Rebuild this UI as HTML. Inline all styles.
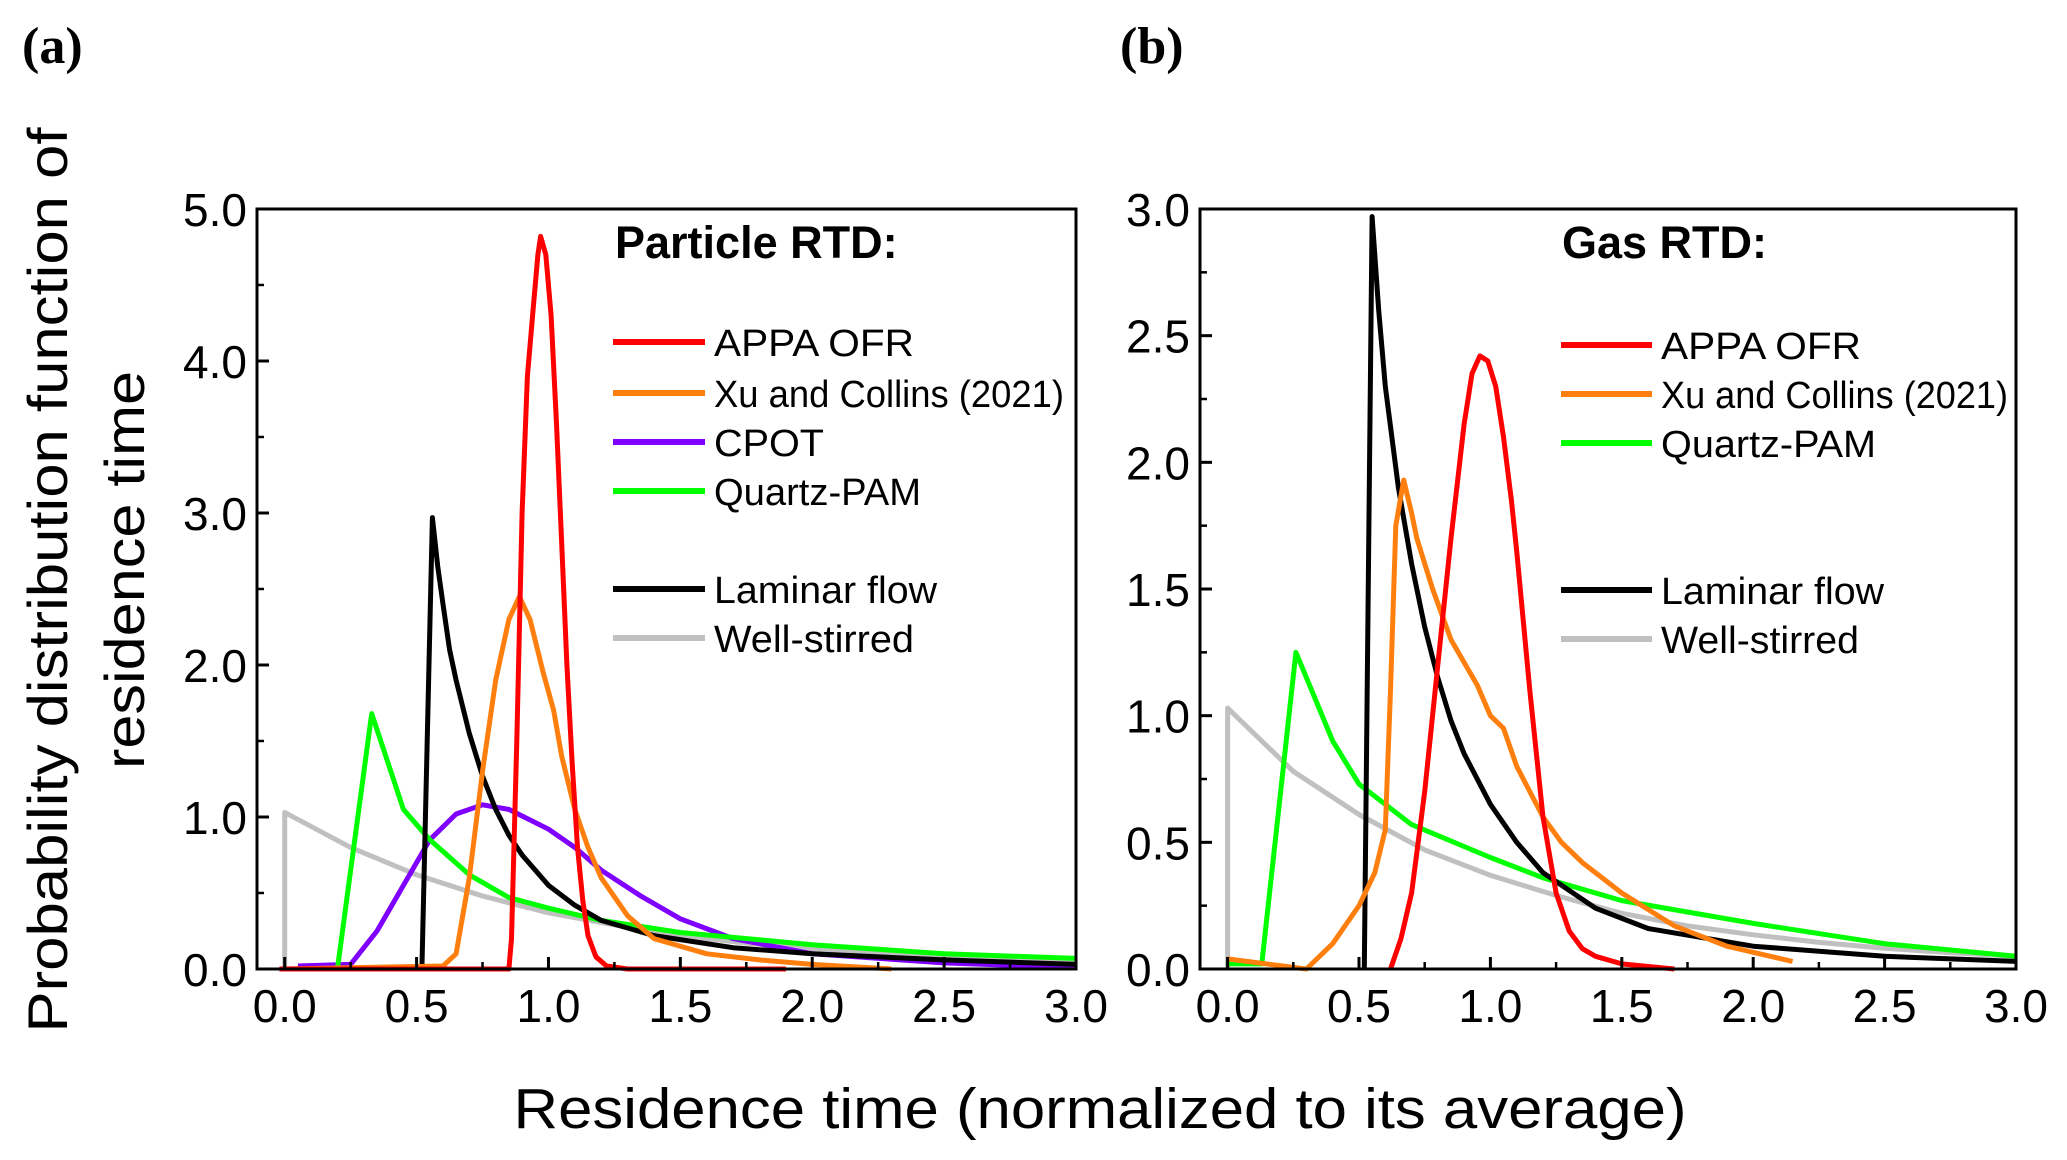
<!DOCTYPE html>
<html><head><meta charset="utf-8"><style>
html,body{margin:0;padding:0;background:#fff;}
svg{display:block;font-family:"Liberation Sans",Arial,sans-serif;}
</style></head><body>
<svg id="fig" width="2067" height="1160" viewBox="0 0 2067 1160" xmlns="http://www.w3.org/2000/svg">
<text x="22" y="63" font-family="Liberation Serif,serif" font-weight="bold" font-size="52">(a)</text>
<text x="1120" y="63" font-family="Liberation Serif,serif" font-weight="bold" font-size="52">(b)</text>
<text transform="translate(67,580) rotate(-90)" text-anchor="middle" font-size="56" textLength="905" lengthAdjust="spacingAndGlyphs">Probability distribution function of</text>
<text transform="translate(144,570) rotate(-90)" text-anchor="middle" font-size="56" textLength="398" lengthAdjust="spacingAndGlyphs">residence time</text>
<text x="1100" y="1128" text-anchor="middle" font-size="57" textLength="1173" lengthAdjust="spacingAndGlyphs">Residence time (normalized to its average)</text>
<g id="pa"></g>
<g id="pb"></g>
</svg>
<script>
// ---- Panel (a) data: Particle RTD ----
const aAppaX = [-0.02,0.5,0.85,0.86,0.88,0.9,0.92,0.94,0.96,0.97,0.99,1.01,1.03,1.05,1.07,1.09,1.11,1.13,1.15,1.18,1.22,1.3,1.5,1.9];
const aAppaY = [0,0,0,0.2,1.5,3.0,3.9,4.3,4.7,4.82,4.7,4.3,3.6,2.8,2.0,1.35,0.8,0.45,0.22,0.08,0.02,0,0,0];
const aXuX = [0.0,0.6,0.65,0.7,0.75,0.8,0.85,0.89,0.93,0.98,1.02,1.05,1.1,1.15,1.2,1.3,1.4,1.6,1.8,2.0,2.3];
const aXuY = [0,0.02,0.1,0.6,1.3,1.9,2.3,2.45,2.3,1.95,1.7,1.4,1.05,0.8,0.6,0.35,0.2,0.1,0.06,0.03,0];
const aCpotX = [0.05,0.25,0.35,0.45,0.55,0.65,0.75,0.85,1.0,1.1,1.2,1.35,1.5,1.7,2.0,2.5,3.0];
const aCpotY = [0.02,0.03,0.25,0.55,0.85,1.02,1.08,1.05,0.92,0.8,0.65,0.48,0.33,0.2,0.1,0.04,0.01];
const aQpX = [0.2,0.33,0.45,0.55,0.7,0.85,1.0,1.2,1.5,2.0,2.5,3.0];
const aQpY = [0,1.68,1.05,0.85,0.62,0.47,0.4,0.32,0.24,0.16,0.1,0.07];
const aLamX = [0.52,0.56,0.58,0.6,0.625,0.65,0.7,0.75,0.8,0.85,0.9,1.0,1.1,1.2,1.4,1.7,2.0,2.5,3.0];
const aLamY = [0,2.97,2.65,2.4,2.1,1.9,1.55,1.27,1.05,0.88,0.75,0.55,0.42,0.32,0.22,0.14,0.1,0.06,0.03];
const aWsX = [0,0,0.25,0.5,0.75,1.0,1.25,1.5,1.75,2.0,2.25,2.5,2.75,3.0];
const aWsY = [0,1.03,0.8,0.62,0.48,0.37,0.29,0.22,0.17,0.135,0.105,0.082,0.064,0.05];
// ---- Panel (b) data: Gas RTD ----
const bAppaX = [0.62,0.66,0.7,0.75,0.8,0.85,0.9,0.93,0.96,0.99,1.02,1.05,1.08,1.1,1.15,1.2,1.25,1.3,1.35,1.4,1.5,1.7];
const bAppaY = [0,0.12,0.3,0.7,1.2,1.7,2.15,2.35,2.42,2.4,2.3,2.1,1.85,1.65,1.1,0.6,0.3,0.15,0.08,0.05,0.02,0];
const bXuX = [0.0,0.3,0.4,0.5,0.56,0.6,0.62,0.64,0.67,0.7,0.72,0.78,0.85,0.95,1.0,1.05,1.1,1.2,1.27,1.35,1.5,1.7,1.9,2.15];
const bXuY = [0.04,0,0.1,0.25,0.38,0.55,1.1,1.75,1.93,1.8,1.7,1.5,1.3,1.12,1.0,0.95,0.8,0.6,0.5,0.42,0.3,0.17,0.09,0.03];
const bQpX = [0.0,0.13,0.26,0.4,0.5,0.7,1.0,1.2,1.5,2.0,2.5,3.0];
const bQpY = [0.02,0.02,1.25,0.9,0.73,0.57,0.44,0.36,0.27,0.18,0.1,0.05];
const bLamX = [0.52,0.55,0.575,0.6,0.65,0.7,0.75,0.8,0.85,0.9,1.0,1.1,1.2,1.4,1.6,2.0,2.5,3.0];
const bLamY = [0,2.97,2.6,2.3,1.9,1.6,1.35,1.15,0.98,0.85,0.65,0.5,0.38,0.24,0.16,0.09,0.05,0.03];
const bWsX = [0,0,0.25,0.5,0.75,1.0,1.25,1.5,1.75,2.0,2.25,2.5,2.75,3.0];
const bWsY = [0,1.03,0.78,0.61,0.47,0.37,0.29,0.22,0.17,0.135,0.105,0.082,0.064,0.05];
const aYTicks = ["0.0","1.0","2.0","3.0","4.0","5.0"];
const bYTicks = ["0.0","0.5","1.0","1.5","2.0","2.5","3.0"];
const xTicks = ["0.0","0.5","1.0","1.5","2.0","2.5","3.0"];

const NS="http://www.w3.org/2000/svg";
function mk(tag,parent){const e=document.createElementNS(NS,tag);parent.appendChild(e);return e;}

function panel(g,L,R,T,B,ymax,yTicks,yMinorStep,series,title,legend){
  const xmin=-0.105,xmax=3.0;
  const sx=v=>L+(v-xmin)/(xmax-xmin)*(R-L);
  const sy=v=>B-(v/ymax)*(B-T);
  series.forEach(s=>{
    const p=mk('polyline',g);
    
    
    p.setAttribute('points',s.x.map((v,i)=>sx(v).toFixed(1)+','+sy(s.y[i]).toFixed(1)).join(' '));
    p.setAttribute('fill','none');p.setAttribute('stroke',s.c);p.setAttribute('stroke-width','5');
    p.setAttribute('stroke-linejoin','round');
  });
  const f=mk('rect',g);
  
  
  f.setAttribute('x',L);f.setAttribute('y',T);f.setAttribute('width',R-L);f.setAttribute('height',B-T);
  f.setAttribute('fill','none');f.setAttribute('stroke','#000');f.setAttribute('stroke-width','3');
  xTicks.forEach((lab,i)=>{
    const v=parseFloat(lab),x=sx(v);
    const t=mk('line',g);
    
    
    t.setAttribute('x1',x);t.setAttribute('x2',x);t.setAttribute('y1',B);t.setAttribute('y2',B-12);
    t.setAttribute('stroke','#000');t.setAttribute('stroke-width','3');
    if(i<xTicks.length-1){
      const m=mk('line',g);
      
      
      const xm=sx(v+0.25);
      m.setAttribute('x1',xm);m.setAttribute('x2',xm);m.setAttribute('y1',B);m.setAttribute('y2',B-7);
      m.setAttribute('stroke','#000');m.setAttribute('stroke-width','2.5');
    }
    const tx=mk('text',g);
    
    
    tx.setAttribute('x',x);tx.setAttribute('y',1022);tx.setAttribute('text-anchor','middle');
    tx.setAttribute('font-size','46');tx.textContent=lab;
  });
  yTicks.forEach((lab,i)=>{
    const v=parseFloat(lab),y=sy(v);
    const t=mk('line',g);
    
    
    t.setAttribute('x1',L);t.setAttribute('x2',L+12);t.setAttribute('y1',y);t.setAttribute('y2',y);
    t.setAttribute('stroke','#000');t.setAttribute('stroke-width','3');
    if(i<yTicks.length-1){
      const m=mk('line',g);
      
      
      const ym=sy(v+yMinorStep);
      m.setAttribute('x1',L);m.setAttribute('x2',L+7);m.setAttribute('y1',ym);m.setAttribute('y2',ym);
      m.setAttribute('stroke','#000');m.setAttribute('stroke-width','2.5');
    }
    const tx=mk('text',g);
    
    
    tx.setAttribute('x',L-10);tx.setAttribute('y',y+17);tx.setAttribute('text-anchor','end');
    tx.setAttribute('font-size','46');tx.textContent=lab;
  });
  const ti=mk('text',g);
  
  
  ti.setAttribute('x',title.x);ti.setAttribute('y',258);ti.setAttribute('font-size','45');ti.setAttribute('font-weight','bold');
  ti.textContent=title.t;
  legend.forEach(e=>{
    const l=mk('line',g);
    
    
    l.setAttribute('x1',e.x1);l.setAttribute('x2',e.x2);l.setAttribute('y1',e.y);l.setAttribute('y2',e.y);
    l.setAttribute('stroke',e.c);l.setAttribute('stroke-width','6');
    const tx=mk('text',g);
    
    
    tx.setAttribute('x',e.x2+9);tx.setAttribute('y',e.y+14);tx.setAttribute('font-size','38');
    if(e.w){tx.setAttribute('textLength',e.w);tx.setAttribute('lengthAdjust','spacingAndGlyphs');}
    tx.textContent=e.t;
  });
}
const RED='#ff0000',ORA='#ff7f0e',PUR='#7f00ff',GRN='#00ff00',BLK='#000',GRY='#c0c0c0';
panel(document.getElementById('pa'),257,1076,209,969,5,aYTicks,0.5,[
 {name:'well-stirred-line',x:aWsX,y:aWsY,c:GRY},
 {name:'cpot-line',x:aCpotX,y:aCpotY,c:PUR},
 {name:'quartz-pam-line',x:aQpX,y:aQpY,c:GRN},
 {name:'laminar-flow-line',x:aLamX,y:aLamY,c:BLK},
 {name:'xu-collins-line',x:aXuX,y:aXuY,c:ORA},
 {name:'appa-ofr-line',x:aAppaX,y:aAppaY,c:RED}],
 {x:615,t:'Particle RTD:'},
 [{x1:613,x2:705,y:342,c:RED,t:'APPA OFR',w:200},{x1:613,x2:705,y:393,c:ORA,t:'Xu and Collins (2021)',w:350},
  {x1:613,x2:705,y:442,c:PUR,t:'CPOT',w:110},{x1:613,x2:705,y:491,c:GRN,t:'Quartz-PAM',w:207},
  {x1:613,x2:705,y:589,c:BLK,t:'Laminar flow',w:223},{x1:613,x2:705,y:638,c:GRY,t:'Well-stirred',w:200}]);
panel(document.getElementById('pb'),1200,2016,209,969,3,bYTicks,0.25,[
 {name:'well-stirred-line',x:bWsX,y:bWsY,c:GRY},
 {name:'quartz-pam-line',x:bQpX,y:bQpY,c:GRN},
 {name:'laminar-flow-line',x:bLamX,y:bLamY,c:BLK},
 {name:'xu-collins-line',x:bXuX,y:bXuY,c:ORA},
 {name:'appa-ofr-line',x:bAppaX,y:bAppaY,c:RED}],
 {x:1562,t:'Gas RTD:'},
 [{x1:1561,x2:1652,y:345,c:RED,t:'APPA OFR',w:200},{x1:1561,x2:1652,y:394,c:ORA,t:'Xu and Collins (2021)',w:347},
  {x1:1561,x2:1652,y:443,c:GRN,t:'Quartz-PAM',w:215},
  {x1:1561,x2:1652,y:590,c:BLK,t:'Laminar flow',w:223},{x1:1561,x2:1652,y:639,c:GRY,t:'Well-stirred',w:198}]);
</script>
</body></html>
